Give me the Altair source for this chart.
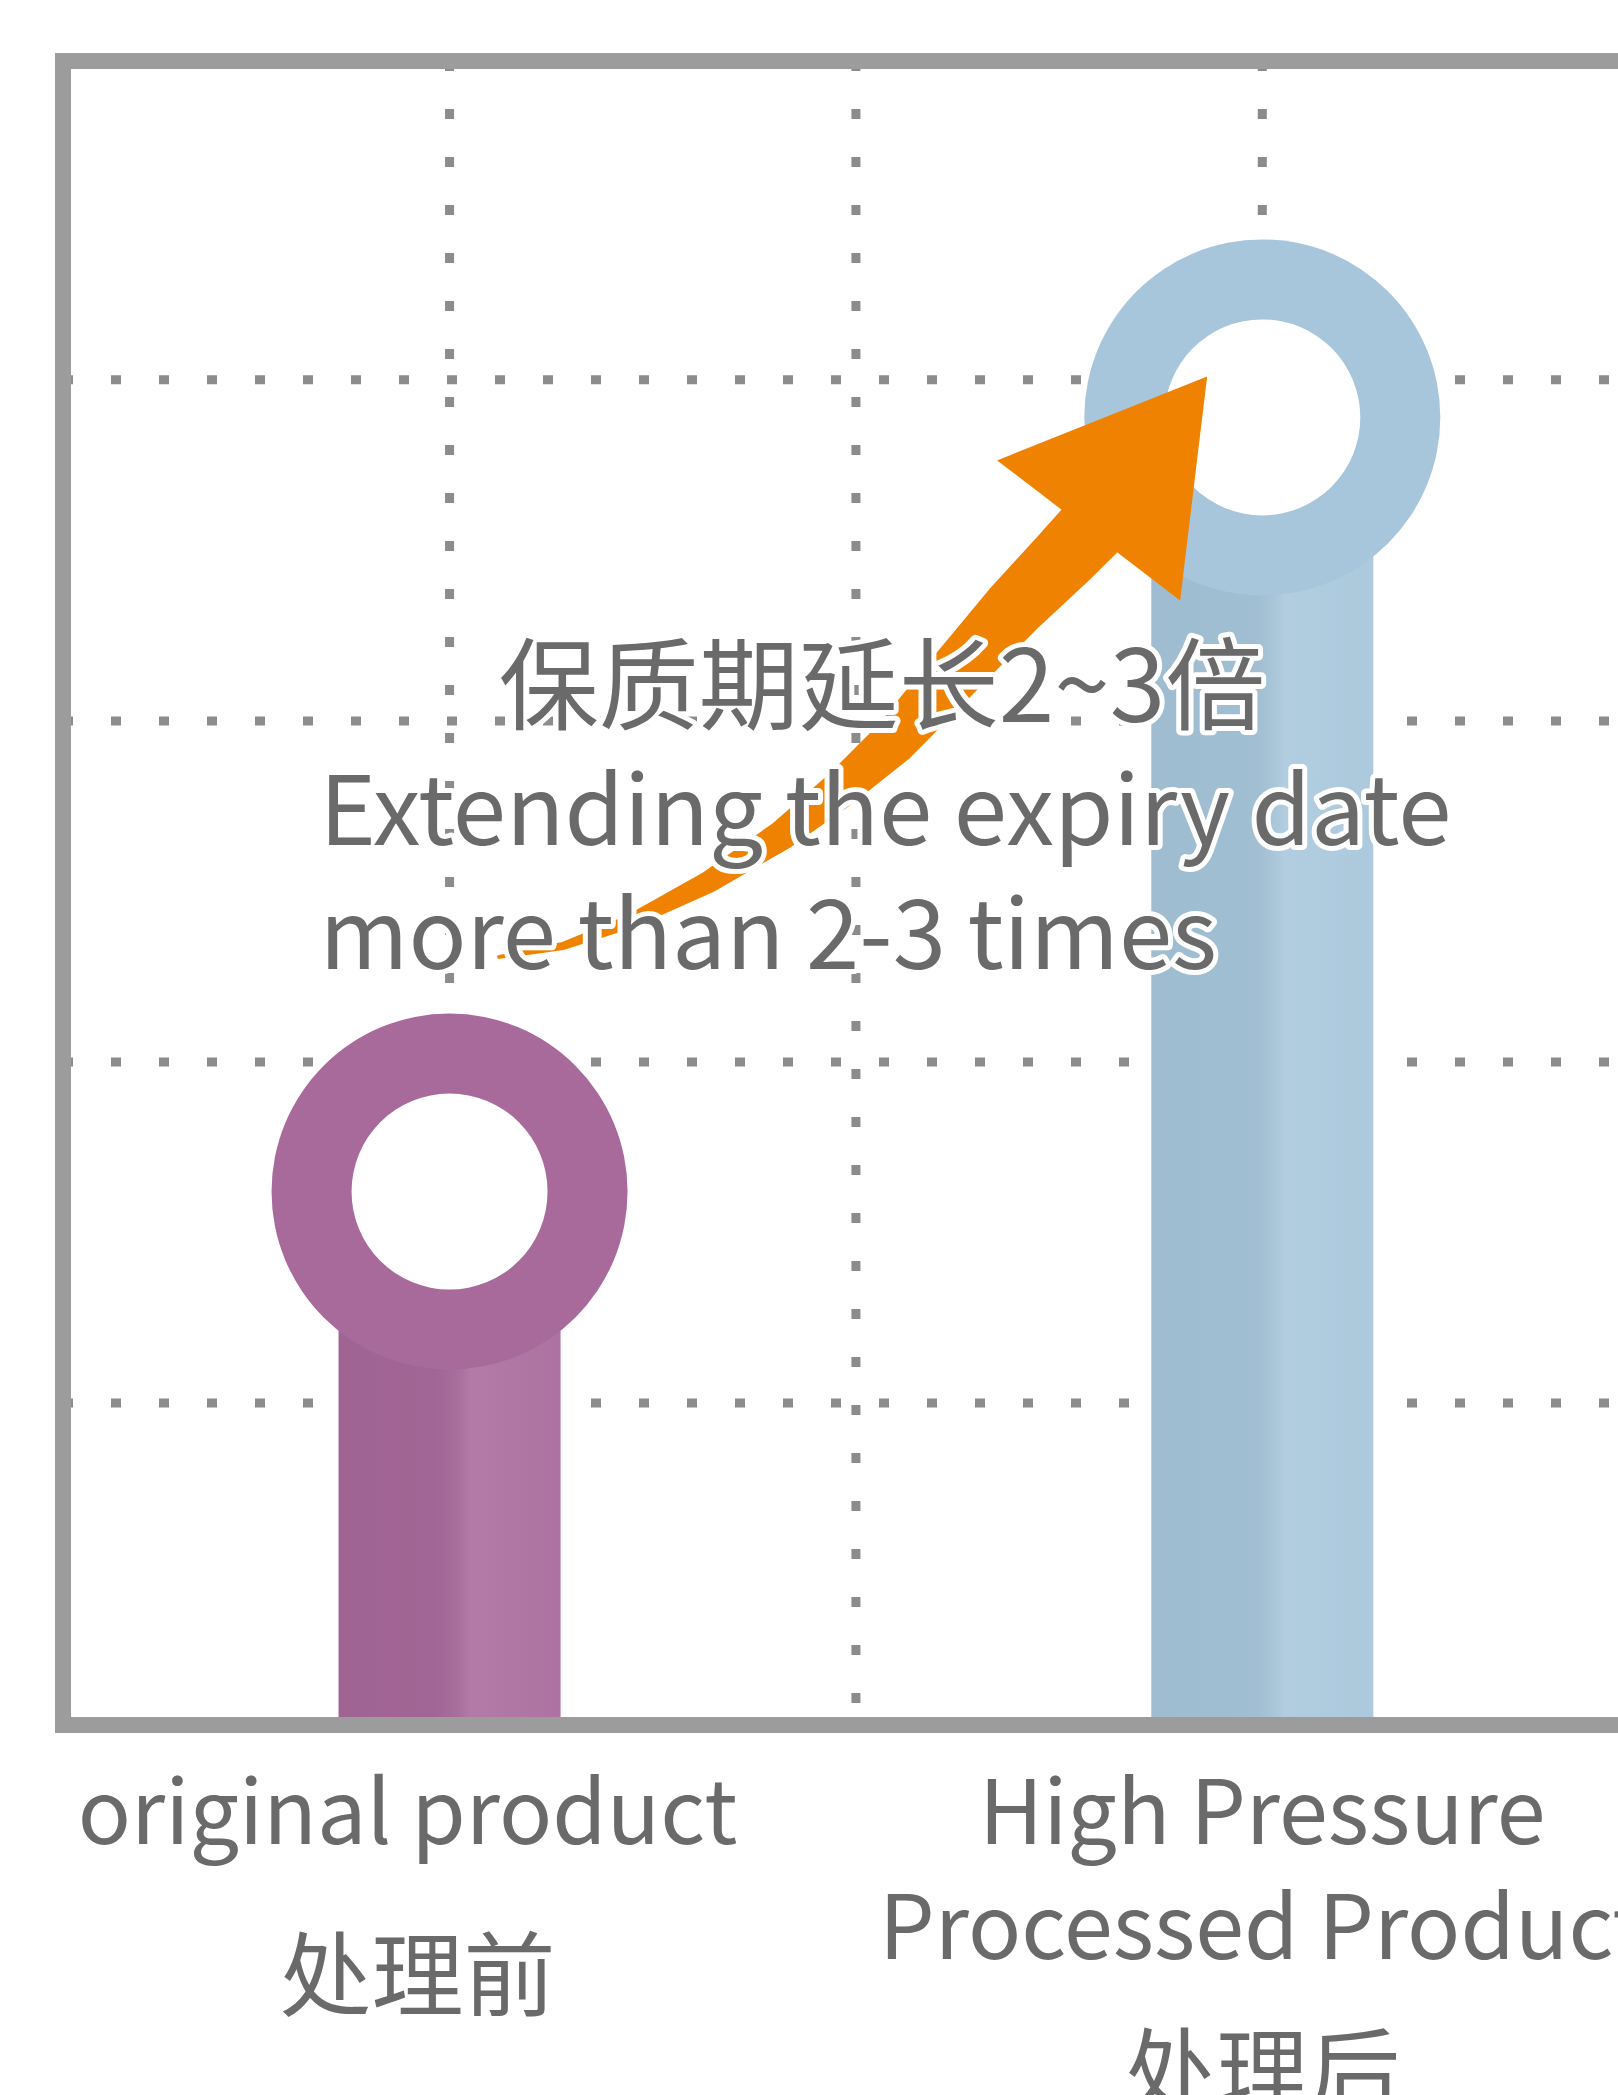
import altair as alt
import pandas as pd

# ---------------- data ----------------
categories_en = ["original product", "High Pressure\nProcessed Product"]
categories_zh = ["处理前", "处理后"]
category_slot = [1, 3]
shelf_life = [1.62, 3.89]
bar_colors = ["#a8699b", "#a7c6db"]

grid_x = [1, 2, 3]
grid_y = [1, 2, 3, 4]

# orange arrow centre line (data units) and its growing width
arrow_x = [1.122, 1.279, 1.443, 1.638, 1.819, 1.966, 2.095, 2.227, 2.389, 2.521, 2.577]
arrow_y = [2.308, 2.340, 2.411, 2.528, 2.666, 2.804, 2.941, 3.117, 3.331, 3.490, 3.560]
arrow_w = [4, 8, 14, 22, 30, 38, 46, 54, 62, 68, 70]
arrow_head_x = [2.670]
arrow_head_y = [3.708]

annot_zh = ["保质期延长2~3倍"]
annot_zh_x = [2.064]
annot_zh_y = [2.997]
annot_en = ["Extending the expiry date\nmore than 2-3 times"]
annot_en_x = [0.680]
annot_en_y = [2.636]

# ---------------- layout ----------------
W, H = 1555, 1664
FONT = "Noto Sans CJK SC"
TEXT_GRAY = "#6a6a6a"
FRAME_GRAY = "#9c9c9c"
DOT_GRAY = "#8c8c8c"
ORANGE = "#ef8200"
Y_MIN, Y_MAX = 0.0557, 4.935

xs = alt.Scale(domain=[0.0611, 3.863], nice=False, zero=False)
ys = alt.Scale(domain=[Y_MIN, Y_MAX], nice=False, zero=False)

bars = pd.DataFrame({
    "slot": category_slot,
    "value": shelf_life,
    "color": bar_colors,
    "en": categories_en,
    "zh": categories_zh,
})
gx = pd.DataFrame({"gx": grid_x})
gy = pd.DataFrame({"gy": grid_y})
arrow = pd.DataFrame({"x": arrow_x, "y": arrow_y, "w": arrow_w, "i": list(range(len(arrow_x)))})
head = pd.DataFrame({"x": arrow_head_x, "y": arrow_head_y})
azh = pd.DataFrame({"x": annot_zh_x, "y": annot_zh_y, "t": annot_zh})
aen = pd.DataFrame({"x": annot_en_x, "y": annot_en_y, "t": annot_en})
one = pd.DataFrame({"k": [0]})

X = lambda f: alt.X(f, scale=xs, axis=None)
Y = lambda f: alt.Y(f, scale=ys, axis=None)

grid_h = alt.Chart(gy).mark_rule(strokeDash=[10, 38], strokeWidth=9, color=DOT_GRAY).encode(
    y=Y("gy:Q"), x=alt.value(0), x2=alt.value(W))
grid_v = alt.Chart(gx).mark_rule(strokeDash=[10, 38], strokeWidth=9, color=DOT_GRAY).encode(
    x=X("gx:Q"), y=alt.value(0), y2=alt.value(H))

stems = alt.Chart(bars).mark_bar(size=222).encode(
    x=X("slot:Q"), y=Y("value:Q"), y2=alt.datum(Y_MIN),
    color=alt.Color("color:N", scale=None))
shade = alt.Gradient(
    gradient="linear", x1=0, x2=1, y1=0, y2=0,
    stops=[
        alt.GradientStop(color="rgba(0,0,0,0.05)", offset=0),
        alt.GradientStop(color="rgba(0,0,0,0.04)", offset=0.4),
        alt.GradientStop(color="rgba(255,255,255,0.12)", offset=0.6),
        alt.GradientStop(color="rgba(255,255,255,0.06)", offset=1),
    ],
)
stem_shade = alt.Chart(bars).mark_bar(size=222, color=shade).encode(
    x=X("slot:Q"), y=Y("value:Q"), y2=alt.datum(Y_MIN))
rings = alt.Chart(bars).mark_point(shape="circle", filled=True, size=356 ** 2, opacity=1, strokeWidth=0).encode(
    x=X("slot:Q"), y=Y("value:Q"), color=alt.Color("color:N", scale=None))
holes = alt.Chart(bars).mark_point(shape="circle", filled=True, size=196 ** 2, opacity=1, strokeWidth=0, color="white").encode(
    x=X("slot:Q"), y=Y("value:Q"))

trail = alt.Chart(arrow).mark_trail(color=ORANGE).encode(
    x=X("x:Q"), y=Y("y:Q"), size=alt.Size("w:Q", scale=None, legend=None), order=alt.Order("i:Q"))
arrowhead = alt.Chart(head).mark_point(
    shape="M0.564,-0.736L-0.936,-0.136L0.371,0.864Z", size=280 ** 2, filled=True,
    opacity=1, strokeWidth=0, color=ORANGE).encode(x=X("x:Q"), y=Y("y:Q"))

frame_left = alt.Chart(one).mark_rule(strokeWidth=16, color=FRAME_GRAY).encode(
    x=alt.value(0), y=alt.value(-8), y2=alt.value(H + 8))
frame_top = alt.Chart(one).mark_rule(strokeWidth=16, color=FRAME_GRAY).encode(
    x=alt.value(-8), x2=alt.value(W), y=alt.value(0))
frame_bottom = alt.Chart(one).mark_rule(strokeWidth=16, color=FRAME_GRAY).encode(
    x=alt.value(-8), x2=alt.value(W), y=alt.value(H))

def annot(df, size, align, lh, halo):
    kw = dict(font=FONT, fontSize=size, align=align, baseline="alphabetic", lineBreak="\n", lineHeight=lh)
    if halo:
        m = alt.Chart(df).mark_text(color="white", stroke="white", strokeWidth=10, strokeJoin="round", **kw)
    else:
        m = alt.Chart(df).mark_text(color=TEXT_GRAY, **kw)
    return m.encode(x=X("x:Q"), y=Y("y:Q"), text="t:N")

# category labels: English (possibly multi-line) followed by Chinese line
EN_LH = 115
label_layers = []
for nlines, dx_en, dx_zh in [(1, -42, -32), (2, 0, 0)]:
    base = alt.Chart(bars).transform_calculate(
        n="length(split(datum.en, '\\n'))").transform_filter(f"datum.n == {nlines}")
    label_layers.append(base.mark_text(
        font=FONT, fontSize=88, align="center", baseline="alphabetic", lineBreak="\n",
        lineHeight=EN_LH, dy=119, dx=dx_en, color=TEXT_GRAY).encode(
        x=X("slot:Q"), y=alt.value(H), text="en:N"))
    label_layers.append(base.mark_text(
        font=FONT, fontSize=92, align="center", baseline="alphabetic",
        dy=188 + 96 * nlines, dx=dx_zh, color=TEXT_GRAY).encode(
        x=X("slot:Q"), y=alt.value(H), text="zh:N"))

chart = alt.layer(
    grid_h, grid_v, stems, stem_shade, rings, holes, trail, arrowhead,
    frame_left, frame_top, frame_bottom,
    annot(azh, 100, "center", 110, True), annot(aen, 96, "left", 124, True),
    annot(azh, 100, "center", 110, False), annot(aen, 96, "left", 124, False),
    *label_layers,
).properties(
    width=W, height=H,
    autosize=alt.AutoSizeParams(type="none"),
    padding={"left": 63, "top": 61, "right": 0, "bottom": 2095 - 61 - H},
    background="white",
).configure_view(stroke=None)

chart.save("out.html", embed_options={"renderer": "svg", "actions": False})
